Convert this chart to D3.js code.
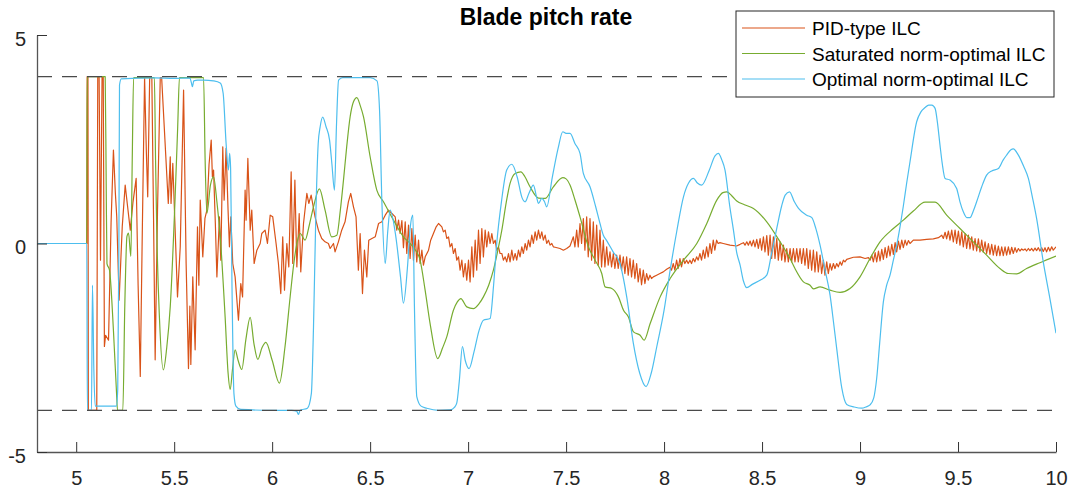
<!DOCTYPE html>
<html>
<head>
<meta charset="utf-8">
<script src="https://cdn.jsdelivr.net/npm/d3@7"></script>
<style>
  body { margin: 0; background: #fff; }
  svg { font-family: "Liberation Sans", Arial, Helvetica, sans-serif; }
</style>
</head>
<body>
<div id="chart"></div>
<script>
var width = 1070
var height = 489

// series names + colours (MATLAB default order)
var seriesNames = ["PID-type ILC", "Saturated norm-optimal ILC", "Optimal norm-optimal ILC"]
var seriesColors = ["#D95319", "#77AC30", "#4DBEEE"]

var xTicks = [5, 5.5, 6, 6.5, 7, 7.5, 8, 8.5, 9, 9.5, 10]
var yTicks = [-5, 0, 5]
var rateLimits = [4, -4]

// [time, pitch rate]
var pid = [[4.8,0],[5.054,0],[5.056,4],[5.060,4],[5.062,-4],[5.105,-4],[5.110,4],[5.117,4],[5.124,-0.4],[5.132,4],[5.138,4],
  [5.144,-2.47],[5.150,-2.2],[5.165,-2.32],[5.178,0.5],[5.190,2.24],[5.200,1.2],[5.207,0.64],[5.219,-1.36],[5.235,0.4],
  [5.250,1.40],[5.262,0.9],[5.276,0.32],[5.290,1.0],[5.306,1.56],[5.316,-1.0],[5.327,-3.19],[5.338,0.5],[5.349,3.98],
  [5.358,2.2],[5.365,1.12],[5.375,3.98],[5.386,3.98],[5.395,0.5],[5.403,-2.79],[5.415,0.8],[5.429,3.98],[5.436,3.98],
  [5.470,0.96],[5.480,2.08],[5.484,0.96],[5.493,1.92],[5.505,0.32],[5.517,-1.28],[5.531,-0.08],[5.548,3.68],[5.561,-0.48],
  [5.573,-3.0],[5.580,-1.5],[5.585,-2.9],[5.595,-0.80],[5.607,-2.55],[5.619,0.40],[5.626,-1.0],[5.633,1.04],[5.646,-0.32],
  [5.657,0.6],[5.667,0.80],[5.678,1.9],[5.689,2.48],[5.695,1.6],[5.701,1.76],[5.710,0.5],[5.718,-0.80],[5.731,0.64],
  [5.738,-0.40],[5.748,2.32],[5.755,1.04],[5.765,2.28],[5.775,0.8],[5.782,-0.08],[5.789,0.64],[5.799,-0.48],[5.811,-0.80],
  [5.828,-1.84],[5.840,-0.96],[5.849,-1.28],[5.862,1.28],[5.867,0.56],[5.876,2.04],[5.888,0.32],[5.896,0.80],[5.908,-0.48],
  [5.922,-0.16],[5.939,0.0],[5.947,0.24],[5.964,0.32],[5.976,0.0],[5.990,0.68],[6.003,0.64],[6.020,0.0],[6.032,-0.48],
  [6.044,-1.20],[6.054,0.16],[6.063,-1.12],[6.075,0.0],[6.085,-0.56],[6.097,1.72],[6.105,-0.48],[6.116,1.52],[6.126,-0.56],
  [6.138,0.72],[6.146,-0.68],[6.160,0.48],[6.177,1.20],[6.187,0.96],[6.199,1.16],[6.219,0.64],[6.236,0.32],[6.253,0.12],
  [6.270,0.04],[6.287,0.0],[6.296,-0.12],[6.313,0.0],[6.321,-0.20],[6.338,0.04],[6.355,0.32],[6.372,0.52],[6.389,1.0],
  [6.401,1.20],[6.415,0.88],[6.428,0.64],[6.440,-0.64],[6.449,0.24],[6.461,-1.20],[6.471,-0.16],[6.483,-0.80],[6.493,0.08],
  [6.509,0.12],[6.526,0.16],[6.543,0.48],[6.560,0.52],[6.577,0.68],[6.594,0.80],[6.611,0.72],
  [6.628,0.64],[6.636,0.32],[6.645,0.56],[6.653,0.24],[6.662,0.55],[6.670,-0.10],[6.679,0.52],[6.687,-0.24],
  [6.696,0.44],[6.704,-0.36],[6.713,0.36],[6.721,-0.40],[6.730,0.20],[6.738,-0.44],[6.747,0.08],[6.755,-0.48],
  [6.764,-0.16],[6.772,-0.52],[6.781,-0.32],[6.798,-0.16],[6.809,0.08],[6.823,0.24],[6.837,0.40],[6.849,0.48],
  [6.866,0.40],[6.874,0.28],[6.883,0.32],[6.891,0.12],[6.900,0.16],[6.908,-0.08],[6.917,0.0],[6.925,-0.24],
  [6.934,-0.12],[6.942,-0.40],[6.951,-0.32],[6.959,-0.64],[6.968,-0.40],[6.976,-0.80],[6.985,-0.48],[6.993,-0.88],
  [7.002,-0.40],[7.010,-0.92],[7.019,-0.08],[7.027,-0.80],[7.036,0.08],[7.044,-0.64],[7.053,0.32],[7.061,-0.48],
  [7.070,0.36],[7.078,-0.32],[7.087,0.32],[7.095,-0.08],[7.104,0.28],[7.112,0.0],[7.121,0.24],[7.129,0.0],
  [7.138,0.08],[7.146,-0.16],[7.155,-0.08],[7.163,-0.24],[7.172,-0.24],[7.180,-0.40],[7.189,-0.32],[7.197,-0.44],
  [7.206,-0.24],[7.214,-0.44],[7.223,-0.16],[7.231,-0.40],[7.240,-0.24],[7.248,-0.40],[7.257,-0.16],[7.265,-0.32],
  [7.274,-0.08],[7.282,-0.24],[7.291,0.0],[7.299,-0.16],[7.308,0.08],[7.316,-0.08],[7.325,0.20],[7.333,0.0],
  [7.342,0.28],[7.350,0.08],[7.359,0.32],[7.367,0.12],[7.376,0.28],[7.384,0.08],[7.393,0.20],[7.401,0.0],
  [7.410,0.08],[7.418,-0.04],[7.427,0.0],[7.435,-0.08],[7.444,-0.09],[7.469,-0.12],[7.486,-0.16],[7.503,-0.12],[7.520,-0.06],
  [7.537,0.16],[7.545,-0.08],[7.554,0.32],[7.562,-0.08],[7.571,0.48],[7.579,0.0],[7.588,0.60],[7.596,-0.16],
  [7.605,0.64],[7.613,-0.32],[7.622,0.60],[7.630,-0.40],[7.639,0.52],[7.647,-0.48],[7.656,0.44],[7.664,-0.52],
  [7.673,0.32],[7.681,-0.56],[7.690,0.08],[7.698,-0.56],[7.707,-0.08],[7.715,-0.52],[7.724,-0.20],[7.732,-0.56],
  [7.741,-0.24],[7.749,-0.60],[7.758,-0.28],[7.766,-0.60],[7.775,-0.28],[7.783,-0.64],[7.792,-0.32],[7.800,-0.72],
  [7.809,-0.32],[7.817,-0.76],[7.826,-0.36],[7.834,-0.80],[7.843,-0.40],[7.851,-0.84],[7.860,-0.48],[7.868,-0.92],
  [7.877,-0.60],[7.885,-0.99],[7.894,-0.64],[7.902,-0.96],[7.911,-0.72],[7.919,-0.88],[7.928,-0.76],[7.936,-0.84],
  [7.945,-0.80],[7.962,-0.76],[7.979,-0.72],[7.996,-0.68],[8.013,-0.62],
  [8.030,-0.57],[8.038,-0.64],[8.047,-0.48],[8.055,-0.64],[8.064,-0.40],[8.072,-0.60],[8.081,-0.36],[8.089,-0.56],
  [8.098,-0.36],[8.106,-0.48],[8.115,-0.40],[8.123,-0.48],[8.132,-0.40],[8.140,-0.48],[8.149,-0.36],[8.157,-0.44],
  [8.166,-0.32],[8.174,-0.40],[8.183,-0.24],[8.191,-0.40],[8.200,-0.16],[8.208,-0.36],[8.217,-0.08],[8.225,-0.32],
  [8.234,0.0],[8.242,-0.24],[8.251,0.08],[8.259,-0.16],[8.268,0.08],[8.276,0.0],
  [8.285,0.02],[8.302,0.0],[8.336,-0.04],[8.370,-0.06],[8.388,-0.02],
  [8.405,0.02],[8.413,-0.04],[8.422,0.04],[8.430,-0.04],[8.439,0.06],[8.447,-0.06],[8.456,0.08],[8.464,-0.08],
  [8.473,0.10],[8.481,-0.12],[8.490,0.12],[8.498,-0.16],[8.507,0.16],[8.515,-0.20],[8.524,0.19],[8.532,-0.28],
  [8.541,0.20],[8.549,-0.36],[8.558,0.16],[8.566,-0.36],[8.575,0.12],[8.583,-0.40],[8.592,0.04],[8.600,-0.40],
  [8.609,-0.04],[8.617,-0.44],[8.626,-0.12],[8.634,-0.44],[8.643,-0.12],[8.651,-0.44],[8.660,-0.12],[8.668,-0.44],
  [8.677,-0.12],[8.685,-0.44],[8.694,-0.12],[8.702,-0.48],[8.711,-0.12],[8.719,-0.52],[8.728,-0.12],[8.736,-0.60],
  [8.745,-0.16],[8.753,-0.64],[8.762,-0.16],[8.770,-0.68],[8.779,-0.20],[8.787,-0.68],[8.796,-0.28],[8.804,-0.72],
  [8.813,-0.40],[8.821,-0.76],[8.830,-0.44],[8.838,-0.72],[8.847,-0.48],[8.855,-0.64],[8.864,-0.48],[8.872,-0.60],
  [8.881,-0.48],[8.889,-0.56],[8.898,-0.44],[8.906,-0.52],[8.915,-0.40],[8.923,-0.44],
  [8.932,-0.38],[8.966,-0.33],[9.000,-0.32],[9.026,-0.36],
  [9.043,-0.34],[9.051,-0.40],[9.060,-0.28],[9.068,-0.44],[9.077,-0.22],[9.085,-0.44],[9.094,-0.18],[9.102,-0.42],
  [9.111,-0.14],[9.119,-0.38],[9.128,-0.10],[9.136,-0.34],[9.145,-0.06],[9.153,-0.30],[9.162,-0.02],[9.170,-0.26],
  [9.179,0.02],[9.187,-0.20],[9.196,0.06],[9.204,-0.14],[9.213,0.08],[9.221,-0.10],[9.230,0.08],[9.238,-0.04],
  [9.247,0.07],[9.255,0.0],[9.272,0.08],[9.306,0.08],[9.340,0.10],[9.374,0.11],[9.400,0.14],
  [9.417,0.20],[9.425,0.12],[9.434,0.27],[9.442,0.11],[9.451,0.30],[9.459,0.08],[9.468,0.32],[9.476,0.04],
  [9.485,0.32],[9.493,0.0],[9.502,0.30],[9.510,-0.04],[9.519,0.28],[9.527,-0.08],[9.536,0.24],[9.544,-0.12],
  [9.553,0.20],[9.561,-0.13],[9.570,0.16],[9.578,-0.16],[9.587,0.12],[9.595,-0.18],[9.604,0.11],[9.612,-0.20],
  [9.621,0.08],[9.629,-0.21],[9.638,0.04],[9.646,-0.24],[9.655,0.0],[9.663,-0.26],[9.672,-0.02],[9.680,-0.28],
  [9.689,-0.04],[9.697,-0.29],[9.706,-0.06],[9.714,-0.29],[9.723,-0.08],[9.731,-0.29],[9.740,-0.08],[9.748,-0.28],
  [9.757,-0.08],[9.765,-0.26],[9.774,-0.09],[9.782,-0.24],[9.791,-0.10],[9.799,-0.21],[9.808,-0.12],[9.816,-0.18],
  [9.825,-0.13],[9.833,-0.16],[9.842,-0.13],[9.850,-0.18],[9.859,-0.12],[9.867,-0.17],[9.876,-0.12],[9.884,-0.18],
  [9.893,-0.11],[9.901,-0.17],[9.910,-0.10],[9.918,-0.18],[9.927,-0.10],[9.935,-0.19],[9.944,-0.10],[9.952,-0.20],
  [9.961,-0.09],[9.969,-0.18],[9.978,-0.08],[9.986,-0.16],[10.0,-0.08]]

var saturated = [[4.8,0],[5.054,0],[5.056,4],[5.148,4],[5.153,1.5],[5.157,-0.48],[5.170,-0.64],[5.190,-2.08],[5.205,-3.5],
  [5.211,-4.0],[5.238,-4.0],[5.248,-1.5],[5.259,0.17],[5.267,0.25],[5.279,-0.31],[5.286,2.0],[5.293,3.98],[5.399,3.98],
  [5.405,2.0],[5.411,0.33],[5.425,-1.8],[5.445,-3.03],[5.462,-2.5],[5.480,-1.51],[5.505,1.12],[5.518,2.8],[5.527,3.98],
  [5.650,3.98],[5.658,2.0],[5.667,0.72],[5.685,1.4],[5.701,1.60],[5.718,1.0],[5.735,0.16],[5.760,-1.76],[5.775,-3.1],
  [5.786,-3.5],[5.798,-3.0],[5.811,-2.55],[5.826,-2.8],[5.845,-3.02],[5.866,-2.3],[5.888,-1.77],[5.907,-2.4],[5.927,-2.78],
  [5.948,-2.5],[5.968,-2.37],[6.000,-2.8],[6.037,-3.35],[6.065,-2.5],[6.092,-1.27],[6.110,-0.5],[6.126,0.0],[6.143,0.24],
  [6.168,0.08],[6.190,0.45],[6.211,0.88],[6.241,1.31],[6.270,0.80],[6.304,0.16],[6.330,0.20],[6.348,0.8],[6.364,1.52],
  [6.380,2.3],[6.398,3.04],[6.415,3.4],[6.432,3.50],[6.450,3.3],[6.466,3.04],[6.500,2.08],[6.534,1.28],[6.568,1.00],
  [6.619,0.56],[6.670,0.16],[6.704,0.0],[6.730,-0.15],[6.755,-0.4],[6.780,-1.1],[6.806,-1.92],[6.845,-2.76],[6.870,-2.5],
  [6.891,-2.24],[6.925,-1.60],[6.945,-1.4],[6.963,-1.32],[6.993,-1.52],[7.027,-1.56],[7.055,-1.45],[7.078,-1.28],
  [7.105,-1.0],[7.129,-0.64],[7.150,-0.2],[7.172,0.32],[7.195,1.0],[7.214,1.44],[7.240,1.68],[7.269,1.72],[7.290,1.6],
  [7.316,1.36],[7.359,1.09],[7.393,1.08],[7.435,1.36],[7.483,1.58],[7.500,1.55],[7.520,1.40],[7.545,1.05],[7.571,0.64],
  [7.614,-0.08],[7.648,-0.40],[7.682,-0.72],[7.699,-1.04],[7.733,-1.08],[7.767,-1.28],[7.793,-1.60],[7.818,-1.76],
  [7.844,-2.12],[7.878,-2.20],[7.898,-2.32],[7.929,-1.92],[7.980,-1.28],[8.031,-0.84],[8.099,-0.40],[8.167,0.0],
  [8.218,0.48],[8.269,1.04],[8.300,1.22],[8.320,1.24],[8.350,1.12],[8.371,1.02],[8.410,0.93],[8.456,0.84],[8.524,0.52],
  [8.592,0.04],[8.643,-0.36],[8.668,-0.60],[8.711,-0.92],[8.745,-1.0],[8.762,-1.09],[8.796,-1.04],[8.847,-1.12],
  [8.898,-1.17],[8.949,-1.08],[9.000,-0.80],[9.051,-0.36],[9.102,0.04],[9.170,0.36],[9.221,0.56],[9.272,0.78],
  [9.332,0.99],[9.383,0.99],[9.442,0.68],[9.510,0.36],[9.578,0.04],[9.646,-0.28],[9.714,-0.60],[9.757,-0.72],
  [9.799,-0.73],[9.850,-0.60],[9.918,-0.46],[10.0,-0.30]]

var optimal = [[4.8,0],[5.054,0],[5.057,-4],[5.078,-4],[5.083,-1.0],[5.090,-3.0],[5.097,-3.9],[5.150,-3.9],[5.205,-3.9],
  [5.212,-3.5],[5.218,0],[5.221,3.8],[5.230,3.95],[5.400,3.97],[5.500,3.96],[5.580,3.97],[5.588,3.85],[5.593,3.76],
  [5.600,3.9],[5.620,3.92],[5.650,3.92],[5.700,3.90],[5.735,3.85],[5.750,3.6],[5.765,2.4],[5.777,1.76],[5.783,2.16],
  [5.788,1.8],[5.795,-1.0],[5.805,-3.6],[5.815,-3.9],[5.840,-3.98],[6.000,-4.0],[6.100,-4.0],[6.125,-4.02],[6.134,-4.1],
  [6.143,-4.0],[6.180,-3.95],[6.200,-3.6],[6.211,-2.0],[6.222,0.5],[6.235,2.4],[6.245,2.8],[6.258,3.03],[6.275,2.8],
  [6.293,2.48],[6.305,1.9],[6.318,1.28],[6.328,2.8],[6.339,3.92],[6.360,3.98],[6.500,3.98],[6.535,3.9],[6.548,3.2],
  [6.560,1.0],[6.577,-0.48],[6.590,0.3],[6.602,0.8],[6.630,0.2],[6.655,-0.8],[6.670,-1.43],[6.690,-0.6],[6.705,0.4],
  [6.718,0.68],[6.726,-1.5],[6.738,-3.67],[6.760,-3.90],[6.789,-3.95],[6.850,-4.0],[6.908,-3.99],[6.930,-3.93],
  [6.942,-3.83],[6.955,-3.3],[6.971,-2.47],[6.985,-2.8],[7.005,-3.0],[7.030,-2.6],[7.055,-2.1],[7.078,-1.84],[7.112,-1.80],
  [7.130,-1.0],[7.146,0.0],[7.170,1.0],[7.197,1.76],[7.223,1.9],[7.250,1.6],[7.275,1.1],[7.291,1.0],[7.310,1.2],
  [7.333,1.4],[7.350,1.1],[7.359,0.96],[7.376,1.08],[7.390,1.0],[7.401,0.88],[7.430,1.6],[7.460,2.3],[7.483,2.68],
  [7.500,2.64],[7.520,2.64],[7.545,2.4],[7.571,2.16],[7.588,1.68],[7.622,1.36],[7.650,0.9],[7.673,0.48],[7.690,0.2],
  [7.707,0.07],[7.740,-0.2],[7.775,-0.48],[7.810,-1.3],[7.843,-2.39],[7.875,-3.1],[7.908,-3.43],[7.935,-3.1],
  [7.963,-2.47],[8.000,-1.6],[8.031,-0.64],[8.065,0.3],[8.099,1.12],[8.125,1.45],[8.150,1.56],[8.170,1.45],[8.192,1.40],
  [8.230,1.75],[8.260,2.1],[8.277,2.16],[8.295,2.0],[8.311,1.76],[8.335,0.9],[8.354,0.32],[8.370,-0.2],[8.388,-0.52],
  [8.405,-0.9],[8.422,-1.06],[8.450,-0.98],[8.490,-0.88],[8.524,-0.76],[8.550,-0.2],[8.575,0.36],[8.600,0.9],
  [8.618,1.16],[8.640,1.24],[8.665,1.0],[8.686,0.84],[8.728,0.68],[8.754,0.62],[8.775,0.35],[8.796,-0.04],[8.820,-0.6],
  [8.847,-1.24],[8.865,-1.9],[8.881,-2.52],[8.907,-3.47],[8.932,-3.86],[8.970,-3.92],[9.009,-3.95],[9.030,-3.92],
  [9.051,-3.87],[9.070,-3.7],[9.085,-3.23],[9.100,-2.4],[9.119,-1.40],[9.136,-1.0],[9.153,-0.76],[9.170,-0.4],
  [9.187,-0.04],[9.204,0.4],[9.221,0.9],[9.238,1.45],[9.255,1.96],[9.289,2.92],[9.310,3.15],[9.332,3.26],[9.350,3.32],
  [9.366,3.32],[9.383,3.24],[9.395,2.9],[9.408,2.36],[9.420,1.9],[9.434,1.56],[9.459,1.52],[9.493,1.32],[9.510,1.0],
  [9.527,0.76],[9.545,0.62],[9.561,0.62],[9.578,0.78],[9.595,1.00],[9.620,1.35],[9.646,1.64],[9.672,1.74],[9.706,1.80],
  [9.730,2.0],[9.748,2.12],[9.770,2.25],[9.782,2.27],[9.808,2.12],[9.835,1.85],[9.859,1.56],[9.880,1.1],[9.901,0.60],
  [9.935,-0.44],[9.969,-1.32],[10.0,-2.15]]

var allSeries = [pid, saturated, optimal]

var plotLeft = 37, plotRight = 1056, plotTop = 35, plotBottom = 452

var x = d3.scaleLinear().domain([4.8, 10]).range([plotLeft, plotRight])
var y = d3.scaleLinear().domain([-5, 5]).range([plotBottom, plotTop])

var svg = d3.select("#chart")
    .append("svg")
    .attr("width", width)
    .attr("height", height)

svg.append("defs").append("clipPath").attr("id", "plotclip")
    .append("rect")
    .attr("x", plotLeft).attr("y", plotTop)
    .attr("width", plotRight - plotLeft).attr("height", plotBottom - plotTop)

// the three curves
var lines = svg.append("g").attr("clip-path", "url(#plotclip)")
allSeries.forEach(function(data, i) {
    var line = d3.line()
        .x(function(d) { return x(d[0]) })
        .y(function(d) { return y(d[1]) })
        .curve(i == 0 ? d3.curveLinear : d3.curveMonotoneX)
    lines.append("path")
        .datum(data)
        .attr("d", line)
        .attr("fill", "none")
        .attr("stroke", seriesColors[i])
        .attr("stroke-width", 1.2)
        .attr("stroke-linejoin", "round")
})

// rate limits
svg.selectAll(".limit")
    .data(rateLimits)
    .enter()
    .append("line")
    .attr("class", "limit")
    .attr("x1", x(4.8)).attr("x2", x(10))
    .attr("y1", function(d) { return y(d) })
    .attr("y2", function(d) { return y(d) })
    .attr("stroke", "#4a4a4a")
    .attr("stroke-width", 1.2)
    .attr("stroke-dasharray", "15,10")

// axes
var xAxis = svg.append("g")
    .attr("transform", "translate(0," + plotBottom + ")")
    .call(d3.axisBottom(x).tickValues(xTicks).tickSizeInner(-10).tickSizeOuter(0).tickPadding(18)
        .tickFormat(function(d) { return d }))
var yAxis = svg.append("g")
    .attr("transform", "translate(" + plotLeft + ",0)")
    .call(d3.axisLeft(y).tickValues(yTicks).tickSizeInner(-10).tickSizeOuter(0).tickPadding(11)
        .tickFormat(function(d) { return d }))

;[xAxis, yAxis].forEach(function(g) {
    g.select(".domain").attr("stroke", "#555").attr("stroke-width", 1.3)
    g.selectAll(".tick line").attr("stroke", "#333").attr("stroke-width", 1)
    g.selectAll(".tick text")
        .attr("fill", "#262626")
        .style("font-size", "20px")
        .style("font-family", "'Liberation Sans', Arial, sans-serif")
})
xAxis.selectAll(".tick text").attr("dy", "0.75em")
yAxis.selectAll(".tick text").attr("dy", "0.5em")

// title
svg.append("text")
    .attr("x", 546)
    .attr("y", 25)
    .attr("text-anchor", "middle")
    .style("font-size", "23px")
    .style("font-weight", "bold")
    .attr("fill", "#000")
    .text("Blade pitch rate")

// legend
var legend = svg.append("g").attr("transform", "translate(736,11)")
legend.append("rect")
    .attr("width", 318).attr("height", 86)
    .attr("fill", "#fff")
    .attr("stroke", "#262626")
    .attr("stroke-width", 1)
seriesNames.forEach(function(name, i) {
    var rowY = 17 + i * 25.5
    legend.append("line")
        .attr("x1", 6).attr("x2", 69)
        .attr("y1", rowY).attr("y2", rowY)
        .attr("stroke", seriesColors[i])
        .attr("stroke-width", 1.2)
    legend.append("text")
        .attr("x", 76)
        .attr("y", rowY + 7)
        .style("font-size", "19px")
        .attr("fill", "#000")
        .text(name)
})
</script>
</body>
</html>
